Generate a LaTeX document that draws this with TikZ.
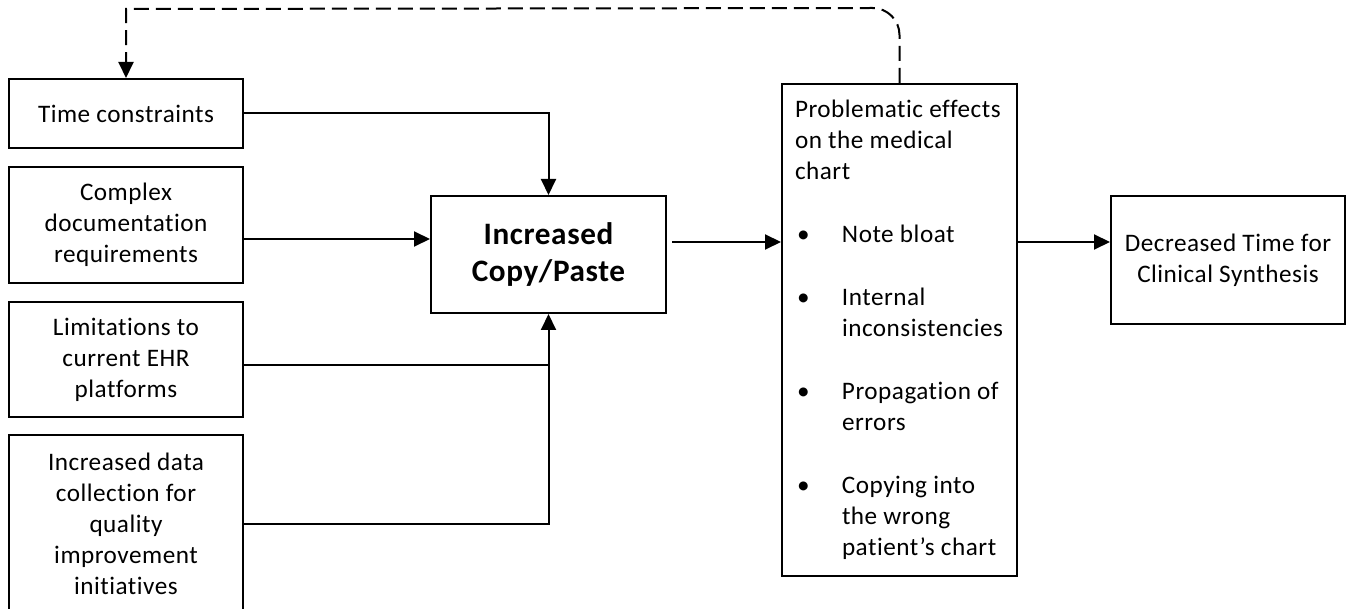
\documentclass[tikz,border=0pt]{standalone}
\usepackage{fontspec}
\setmainfont{Carlito}[Ligatures=NoCommon,LetterSpace=2]
\usetikzlibrary{arrows.meta}

\tikzset{
  box/.style={draw=black,line width=1pt,minimum width=117pt,align=center,inner sep=0pt,
    font=\fontsize{12.6pt}{15.5pt}\selectfont},
  link/.style={line width=1pt},
  arw/.style={link,-{Triangle[length=8pt,width=7.5pt]}},
  fb/.style={arw,dash pattern=on 7.5pt off 3.5pt},
}
\newcommand{\blt}{\makebox[23.5pt][l]{\hspace{1pt}\textbullet}}
\newcommand{\ind}{\hspace*{23.5pt}}

\begin{document}
\begin{tikzpicture}[x=0.5pt,y=0.5pt]
\useasboundingbox (0,0) rectangle (1346,-609);
%
% causes on the left
\node[box,minimum height=34.5pt] (tc) at (126,-113.5) {Time constraints};
\node[box,minimum height=58pt] (cd) at (126,-225) {Complex\\documentation\\requirements};
\node[box,minimum height=57.5pt] (le) at (126,-359.5) {Limitations to\\current EHR\\platforms};
\node[box,minimum height=89pt] (dc) at (126,-524) {Increased data\\collection for\\quality\\improvement\\initiatives};
%
% copy/paste box
\node[box,minimum width=117.5pt,minimum height=58.5pt,font=\fontsize{15.6pt}{18.5pt}\selectfont\bfseries] (cp) at (548.5,-254.5) {Increased\\Copy/Paste};
%
% effects on the chart
\node[box,minimum width=117.5pt,minimum height=246pt,text width=104.5pt,align=flush left] (pe) at (899.5,-330) {Problematic effects\\on the medical\\chart\\[16pt]
\blt Note bloat\\[16pt]
\blt Internal\\\ind inconsistencies\\[16pt]
\blt Propagation of\\\ind errors\\[16pt]
\blt Copying into\\\ind the wrong\\\ind patient’s chart};
%
% outcome
\node[box,minimum height=64pt] (dt) at (1228,-260) {Decreased Time for\\Clinical Synthesis};
%
% arrows
\draw[arw] (tc.east) -| (cp.north);
\draw[arw] ([yshift=-7pt]cd.east) -- ([yshift=-7pt]cd.east -| cp.west);
\draw[link] ([yshift=-3pt]le.east) -- ([yshift=-3pt]le.east -| cp.south);
\draw[arw] (dc.east) -| (cp.south);
\draw[arw] ([xshift=2.5pt,yshift=6.25pt]cp.east) -- ([yshift=6.25pt]cp.east -| pe.west);
\draw[arw] ([yshift=9pt]dt.west -| pe.east) -- ([yshift=9pt]dt.west);
%
% feedback loop
\draw[fb] (pe.north) -- ++(0,48) arc[start angle=0,end angle=90,radius=27] -- (tc.north |- 0,-9) -- (tc.north);
\end{tikzpicture}
\end{document}
